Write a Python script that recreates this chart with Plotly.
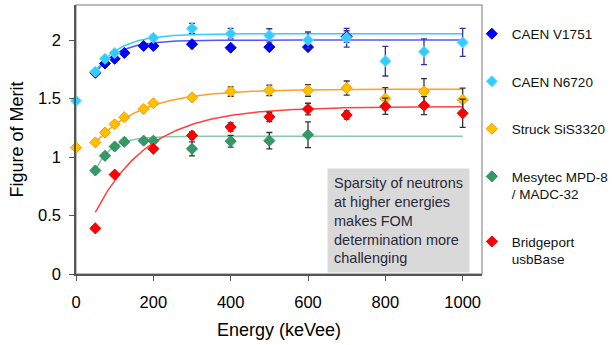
import numpy as np
import plotly.graph_objects as go

# ---------------- data ----------------
series_names = ["CAEN V1751", "CAEN N6720", "Struck SiS3320",
                "Mesytec MPD-8<br>/ MADC-32", "Bridgeport<br>usbBase"]

energy_v1751 = [50, 75, 100, 125, 175, 200, 300, 400, 500, 600, 700]
fom_v1751 = [1.72, 1.80, 1.84, 1.89, 1.95, 1.95, 1.965, 1.935, 1.94, 1.94, 2.03]
err_v1751 = [0, 0, 0, 0, 0, 0, 0, 0, 0, 0, 0.05]

energy_n6720 = [0, 50, 75, 100, 200, 300, 400, 500, 600, 700, 800, 900, 1000]
fom_n6720 = [1.48, 1.73, 1.84, 1.89, 2.02, 2.10, 2.055, 2.04, 2.00, 2.02, 1.82, 1.90, 1.98]
err_n6720 = [0, 0, 0, 0, 0.02, 0.043, 0.045, 0.057, 0.069, 0.08, 0.127, 0.11, 0.12]

energy_sis = [0, 50, 75, 100, 125, 175, 200, 300, 400, 500, 600, 700, 800, 900, 1000]
fom_sis = [1.08, 1.125, 1.21, 1.28, 1.34, 1.41, 1.46, 1.51, 1.56, 1.57, 1.57, 1.59, 1.50, 1.56, 1.49]
err_sis = [0, 0, 0, 0, 0, 0, 0, 0.02, 0.04, 0.045, 0.05, 0.06, 0.094, 0.11, 0.10]

energy_mpd = [50, 75, 100, 125, 175, 200, 300, 400, 500, 600]
fom_mpd = [0.885, 1.01, 1.09, 1.13, 1.14, 1.14, 1.07, 1.135, 1.14, 1.19]
err_mpd = [0, 0, 0, 0, 0, 0, 0.06, 0.05, 0.07, 0.11]

energy_bp = [50, 100, 200, 300, 400, 500, 600, 700, 800, 900, 1000]
fom_bp = [0.39, 0.85, 1.07, 1.185, 1.257, 1.343, 1.41, 1.36, 1.434, 1.44, 1.374]
err_bp = [0, 0, 0, 0.03, 0.035, 0.04, 0.05, 0.035, 0.07, 0.077, 0.12]

# fitted saturation curves  y = A - B*exp(-E/tau), drawn from E0 to 1000
fit_A = [2.0, 2.054, 1.58, 1.177, 1.43]
fit_B = [0.644, 0.68, 0.68, 0.97, 1.29]
fit_tau = [60, 66, 125, 41.5, 140]
fit_E0 = [50, 50, 50, 50, 50]

x_ticks = [0, 200, 400, 600, 800, 1000]
y_ticks = [0, 0.5, 1, 1.5, 2]

note_text = ("Sparsity of neutrons<br>at higher energies<br>makes FOM<br>"
             "determination more<br>challenging")

# ---------------- styles ----------------
marker_fill = ["#0000ff", "#33ccff", "#ffc000", "#339966", "#ff0000"]
marker_edge = ["#0000cc", "#66d9ff", "#ff9900", "#2e8b5f", "#ee0000"]
line_cols = ["#5555ff", "#33ccff", "#ffa020", "#8cc8a8", "#ff4040"]
err_cols = ["#333399", "#333399", "#333333", "#333333", "#333333"]

all_E = [energy_v1751, energy_n6720, energy_sis, energy_mpd, energy_bp]
all_F = [fom_v1751, fom_n6720, fom_sis, fom_mpd, fom_bp]
all_err = [err_v1751, err_n6720, err_sis, err_mpd, err_bp]

FONT = "Liberation Sans, Arial, sans-serif"

fig = go.Figure()

# fit curves first (behind markers)
for i in range(5):
    xs = np.linspace(fit_E0[i], 1000, 200)
    ys = fit_A[i] - fit_B[i] * np.exp(-xs / fit_tau[i])
    fig.add_trace(go.Scatter(x=xs, y=ys, mode="lines",
                             line=dict(color=line_cols[i], width=1.5),
                             showlegend=False, hoverinfo="skip"))

for i in range(5):
    fig.add_trace(go.Scatter(
        x=all_E[i], y=all_F[i], mode="markers", name=series_names[i],
        legendgroup=f"g{i}", cliponaxis=False,
        marker=dict(symbol="diamond", size=8.5, color=marker_fill[i],
                    line=dict(color=marker_edge[i], width=1)),
        error_y=dict(type="data", array=all_err[i], visible=True,
                     color=err_cols[i], thickness=1.3, width=3),
    ))

fig.add_annotation(
    x=648, y=0.908, xref="x", yref="y", xanchor="left", yanchor="top",
    text=note_text, showarrow=False, align="left",
    font=dict(family=FONT, size=14.5, color="#2a2a3a"),
    bgcolor="#d9d9d9", borderpad=6,
)

# plot frame (light grey top/right)
fig.add_shape(type="rect", xref="paper", yref="paper", x0=0, y0=0, x1=1, y1=1,
              line=dict(color="#a6a6a6", width=1.5), layer="below")

fig.update_layout(
    width=616, height=345,
    margin=dict(l=76, r=134, t=5, b=71, autoexpand=False),
    paper_bgcolor="white", plot_bgcolor="white",
    font=dict(family=FONT, color="#000000"),
    showlegend=True,
    legend=dict(x=0.975, y=0.95, xanchor="left", yanchor="top",
                font=dict(family=FONT, size=13.5, color="#111111"),
                tracegroupgap=27, valign="top",
                bgcolor="rgba(0,0,0,0)", itemwidth=30),
    xaxis=dict(range=[0, 1050], tickvals=x_ticks, ticks="outside", ticklen=5,
               tickcolor="#555555", showline=True, linecolor="#555555", linewidth=1.5,
               showgrid=False, zeroline=False, ticklabelstandoff=7,
               tickfont=dict(size=16.5, family=FONT),
               title=dict(text="Energy (keVee)", font=dict(size=18, family=FONT), standoff=14)),
    yaxis=dict(range=[0, 2.3], tickvals=y_ticks, ticktext=["0", "0.5", "1", "1.5", "2"],
               ticks="outside", ticklen=5,
               tickcolor="#555555", showline=True, linecolor="#555555", linewidth=1.5,
               showgrid=False, zeroline=False, ticklabelstandoff=5,
               tickfont=dict(size=16.5, family=FONT),
               title=dict(text="Figure of Merit", font=dict(size=18, family=FONT), standoff=10)),
)

fig.write_html("out.html")
